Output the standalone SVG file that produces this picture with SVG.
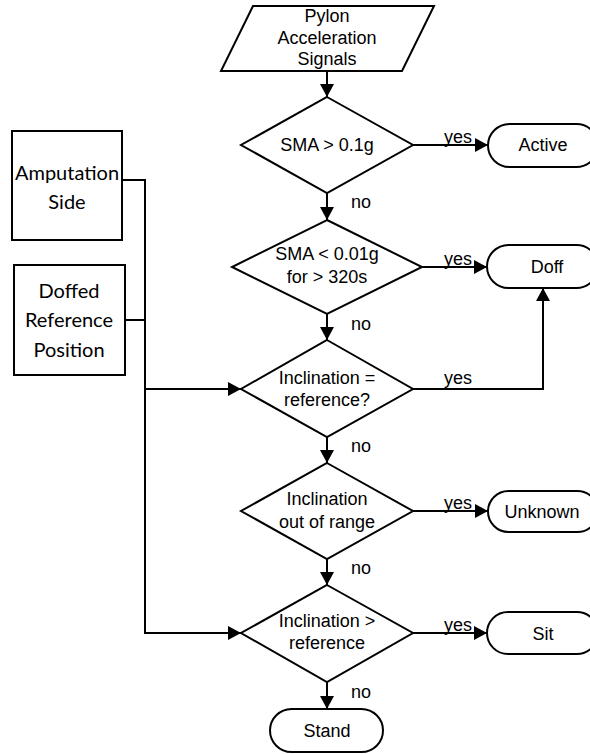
<svg xmlns="http://www.w3.org/2000/svg" width="590" height="754" viewBox="0 0 590 754">
<style>
.s{fill:#fff;stroke:#000;stroke-width:2}
.t{font-family:"Liberation Sans",Arial,sans-serif;font-size:18px;text-anchor:middle;fill:#000}
.c{font-family:Lato,"Open Sans",sans-serif;font-size:20px;text-anchor:middle;fill:#000}
.l{fill:none;stroke:#000;stroke-width:2}
</style>
<defs>
<marker id="a" markerUnits="userSpaceOnUse" markerWidth="14" markerHeight="14" viewBox="0 0 14 14" refX="13" refY="7" orient="auto">
<path d="M0,0 L13,7 L0,14 Z" fill="#000"/>
</marker>
</defs>
<rect width="590" height="754" fill="#fff"/>
<g id="connectors">
<line class="l" x1="327" y1="71" x2="327" y2="97" marker-end="url(#a)"/>
<line class="l" x1="413" y1="145" x2="488" y2="145" marker-end="url(#a)"/>
<line class="l" x1="327" y1="193" x2="327" y2="220" marker-end="url(#a)"/>
<line class="l" x1="422" y1="267" x2="487" y2="267" marker-end="url(#a)"/>
<line class="l" x1="327" y1="314" x2="327" y2="340" marker-end="url(#a)"/>
<polyline class="l" points="413,389 543,389 543,288" marker-end="url(#a)"/>
<line class="l" x1="327" y1="437" x2="327" y2="463" marker-end="url(#a)"/>
<line class="l" x1="413" y1="511" x2="488" y2="511" marker-end="url(#a)"/>
<line class="l" x1="327" y1="559" x2="327" y2="585" marker-end="url(#a)"/>
<line class="l" x1="413" y1="633" x2="487" y2="633" marker-end="url(#a)"/>
<line class="l" x1="327" y1="682" x2="327" y2="709" marker-end="url(#a)"/>
<polyline class="l" points="122,180 145,180 145,633 241,633" marker-end="url(#a)"/>
<line class="l" x1="125" y1="320" x2="145" y2="320"/>
<line class="l" x1="145" y1="389" x2="241" y2="389" marker-end="url(#a)"/>
<text class="t" x="458" y="143">yes</text>
<text class="t" x="458" y="265">yes</text>
<text class="t" x="458" y="384">yes</text>
<text class="t" x="458" y="509">yes</text>
<text class="t" x="458" y="631">yes</text>
<text class="t" x="361" y="208">no</text>
<text class="t" x="361" y="330">no</text>
<text class="t" x="361" y="452">no</text>
<text class="t" x="361" y="574">no</text>
<text class="t" x="361" y="698">no</text>
</g>
<g id="pylon">
<polygon class="s" points="253,6 434,6 402,71 221,71"/>
<text class="t" x="327" y="22">Pylon</text>
<text class="t" x="327" y="44">Acceleration</text>
<text class="t" x="327" y="65">Signals</text>
</g>
<g id="d1">
<polygon class="s" points="327,97 413,145 327,193 241,145"/>
<text class="t" x="327" y="151">SMA &gt; 0.1g</text>
</g>
<g id="d2">
<polygon class="s" points="327,220 422,267 327,314 232,267"/>
<text class="t" x="327" y="260">SMA &lt; 0.01g</text>
<text class="t" x="327" y="283">for &gt; 320s</text>
</g>
<g id="d3">
<polygon class="s" points="327,340 413,389 327,437 241,389"/>
<text class="t" x="327" y="384">Inclination =</text>
<text class="t" x="327" y="406">reference?</text>
</g>
<g id="d4">
<polygon class="s" points="327,463 413,511 327,559 241,511"/>
<text class="t" x="327" y="505">Inclination</text>
<text class="t" x="327" y="528">out of range</text>
</g>
<g id="d5">
<polygon class="s" points="327,585 413,633 327,682 241,633"/>
<text class="t" x="327" y="627">Inclination &gt;</text>
<text class="t" x="327" y="649">reference</text>
</g>
<g id="active">
<rect class="s" x="488" y="124" width="110" height="43" rx="21.5"/>
<text class="t" x="543" y="151">Active</text>
</g>
<g id="doff">
<rect class="s" x="487" y="245" width="111" height="43" rx="21.5"/>
<text class="t" x="547" y="273">Doff</text>
</g>
<g id="unknown">
<rect class="s" x="488" y="491" width="110" height="41" rx="20.5"/>
<text class="t" x="542" y="518">Unknown</text>
</g>
<g id="sit">
<rect class="s" x="487" y="612" width="111" height="42" rx="21"/>
<text class="t" x="543" y="640">Sit</text>
</g>
<g id="stand">
<rect class="s" x="270" y="709" width="113" height="43" rx="21.5"/>
<text class="t" x="327" y="737">Stand</text>
</g>
<g id="amputation">
<rect class="s" x="12" y="131" width="110" height="109"/>
<text class="c" x="67" y="180">Amputation</text>
<text class="c" x="67" y="209">Side</text>
</g>
<g id="doffed">
<rect class="s" x="14" y="265" width="111" height="110"/>
<text class="c" x="69" y="298">Doffed</text>
<text class="c" x="69" y="327">Reference</text>
<text class="c" x="69" y="357">Position</text>
</g>
</svg>
